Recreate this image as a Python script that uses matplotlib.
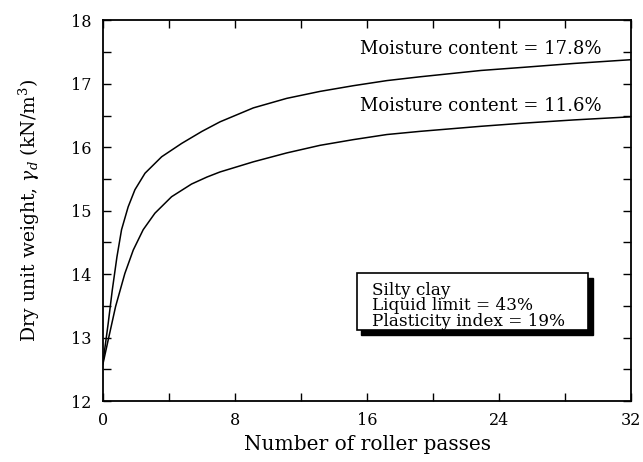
import matplotlib
matplotlib.use('Agg')
import matplotlib.pyplot as plt
from matplotlib.patches import Rectangle
from matplotlib.ticker import MultipleLocator

plt.rcParams['font.family'] = 'DejaVu Serif'
plt.rcParams['mathtext.fontset'] = 'dejavuserif'

# curves
passes_hi = [0, 0.32, 0.57, 0.85, 1.13, 1.53, 1.94, 2.55, 3.56, 4.77, 6.0, 7.09, 9.11,
             11.13, 13.15, 15.17, 17.19, 19.2, 22.9, 25.5, 28.5, 32]
mc_178 = [12.6, 13.22, 13.75, 14.27, 14.7, 15.06, 15.33, 15.59, 15.85, 16.06, 16.25, 16.4, 16.62,
          16.77, 16.88, 16.97, 17.05, 17.11, 17.21, 17.26, 17.32, 17.38]
passes_lo = [0, 0.32, 0.77, 1.33, 1.84, 2.44, 3.15, 4.16, 5.37, 6.3, 7.09, 9.11,
             11.13, 13.15, 15.17, 17.19, 19.2, 22.9, 25.5, 28.5, 32]
mc_116 = [12.58, 12.96, 13.49, 14.01, 14.38, 14.7, 14.96, 15.22, 15.42, 15.53, 15.61, 15.77,
          15.91, 16.03, 16.12, 16.2, 16.25, 16.33, 16.38, 16.43, 16.48]

x_ticks = [0, 8, 16, 24, 32]
y_ticks = [12, 13, 14, 15, 16, 17, 18]

fig = plt.figure(figsize=(6.43, 4.62), dpi=100)
ax = fig.add_axes([0.160, 0.132, 0.822, 0.824])

ax.plot(passes_hi, mc_178, color='black', lw=1.1)
ax.plot(passes_lo, mc_116, color='black', lw=1.1)

ax.set_xlim(0, 32)
ax.set_ylim(12, 18)
ax.set_xticks(x_ticks)
ax.set_yticks(y_ticks)
ax.xaxis.set_minor_locator(MultipleLocator(4))
ax.yaxis.set_minor_locator(MultipleLocator(0.5))
ax.tick_params(which='both', direction='in', top=True, right=True, labelsize=11.5, pad=8)
ax.tick_params(which='both', length=6, width=1)
for s in ax.spines.values():
    s.set_linewidth(1.3)

ax.text(15.58, 17.55, 'Moisture content = 17.8%', fontsize=13, va='center')
ax.text(15.58, 16.65, 'Moisture content = 11.6%', fontsize=13, va='center')

# box with shadow
ax.add_patch(Rectangle((15.6, 13.04), 14.1, 0.9, facecolor='black', edgecolor='black', zorder=3))
ax.add_patch(Rectangle((15.4, 13.12), 14.0, 0.9, facecolor='white', edgecolor='black', lw=1.2, zorder=4))
ax.text(16.3, 13.5, 'Silty clay\nLiquid limit = 43%\nPlasticity index = 19%',
        fontsize=12.2, va='center', linespacing=0.88, zorder=5)

ax.set_xlabel('Number of roller passes', fontsize=14.5, labelpad=4)
ax.set_ylabel(r'Dry unit weight, $\gamma_d$ (kN/m$^3$)', fontsize=13.5, labelpad=21)

fig.savefig('out.png', dpi=100)
